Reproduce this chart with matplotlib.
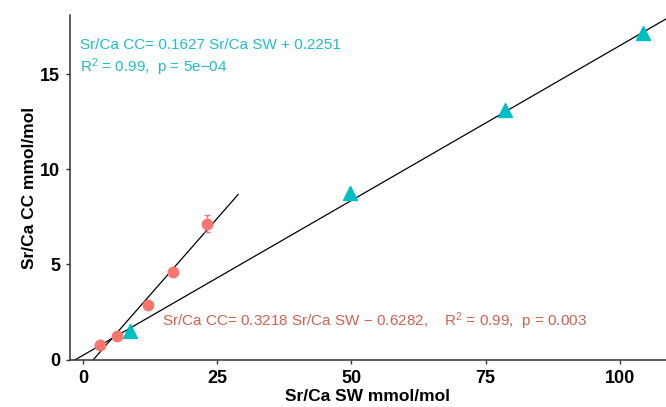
import numpy as np
import matplotlib
matplotlib.use("Agg")
import matplotlib.pyplot as plt

plt.rcParams['font.family'] = ['Liberation Sans', 'DejaVu Sans']
plt.rcParams['mathtext.fontset'] = 'custom'
plt.rcParams['mathtext.rm'] = 'Liberation Sans'
plt.rcParams['mathtext.it'] = 'Liberation Sans'

# CC samples (red circles)
cc_sw = [3.2, 6.3, 12.1, 16.8, 23.1]
cc_cc = [0.79, 1.22, 2.88, 4.58, 7.13]
cc_err = [0.0, 0.0, 0.0, 0.0, 0.45]

# SW samples (teal triangles)
sw_sw = [8.75, 49.8, 78.6, 104.3]
sw_cc = [1.49, 8.74, 13.1, 17.18]

# fits
red_slope, red_icpt = 0.3218, -0.6282
teal_slope, teal_icpt = 0.1627, 0.2251
red_range = [1.7, 28.9]

red = '#F8766D'
red_txt = '#D3604F'
teal = '#00BFC4'
teal_txt = '#1DBFC8'

fig = plt.figure(figsize=(6.66, 4.07), dpi=100)
ax = fig.add_axes([0.105, 0.1155, 0.895, 0.8475])

xlim = (-2.42, 108.6)
ylim = (-0.02, 18.1)

xs = np.array(xlim)
ax.plot(xs, teal_slope * xs + teal_icpt, color='black', lw=0.9, zorder=2)
xr = np.array(red_range)
ax.plot(xr, red_slope * xr + red_icpt, color='black', lw=0.9, zorder=2)

ax.errorbar(cc_sw, cc_cc, yerr=cc_err, fmt='o', color=red, ms=7.5,
            elinewidth=1, capsize=2, zorder=3)
ax.plot(sw_sw, sw_cc, '^', color=teal, ms=9.5, zorder=3)

ax.text(-0.5, 16.3, 'Sr/Ca CC= 0.1627 Sr/Ca SW + 0.2251', color=teal_txt, fontsize=11)
ax.text(-0.5, 15.1, r'R$^2$ = 0.99,  p = 5e$-$04', color=teal_txt, fontsize=11)
ax.text(14.8, 1.75, r'Sr/Ca CC= 0.3218 Sr/Ca SW $-$ 0.6282,    R$^2$ = 0.99,  p = 0.003',
        color=red_txt, fontsize=11)

ax.set_xlim(*xlim)
ax.set_ylim(*ylim)
ax.set_xticks([0, 25, 50, 75, 100])
ax.set_yticks([0, 5, 10, 15])
for s in ['top', 'right']:
    ax.spines[s].set_visible(False)
for s in ['left', 'bottom']:
    ax.spines[s].set_color('#333333')
    ax.spines[s].set_linewidth(1.1)
ax.tick_params(colors='#333333', length=3, width=1, labelsize=13, pad=4)
for lab in ax.get_xticklabels() + ax.get_yticklabels():
    lab.set_fontweight('bold')
    lab.set_color('black')

ax.set_xlabel('Sr/Ca SW mmol/mol', fontsize=12.5, fontweight='bold', labelpad=2)
ax.set_ylabel('Sr/Ca CC mmol/mol', fontsize=12.5, fontweight='bold', labelpad=2)

fig.savefig('out.png', dpi=100)
